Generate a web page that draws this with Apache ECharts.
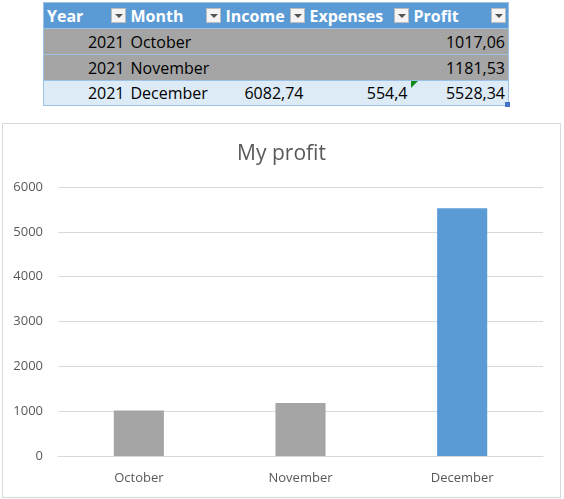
<!DOCTYPE html>
<html>
<head>
<meta charset="utf-8">
<script src="https://cdn.jsdelivr.net/npm/echarts@6/dist/echarts.min.js"></script>
<style>
  body { margin: 0; background: #fff; font-family: "Open Sans", sans-serif; }
  #sheet { position: absolute; left: 43px; top: 2px; border-collapse: collapse; table-layout: fixed; }
  #sheet td, #sheet th { padding: 0 3px; font-size: 16px; white-space: nowrap; position: relative; border-top: 1px solid #9bc2e6; border-bottom: 1px solid #9bc2e6; }
  #sheet th { background: #5b9bd5; color: #fff; font-weight: bold; text-align: left; height: 25px; }
  #sheet tr.grey td { background: #a5a5a5; color: #000; height: 25px; }
  #sheet tr.last td { background: #ddebf7; color: #000; height: 24px; }
  #sheet tr td:first-child, #sheet tr th:first-child { border-left: 1px solid #9bc2e6; }
  #sheet tr td:last-child, #sheet tr th:last-child { border-right: 1px solid #9bc2e6; }
  .num { text-align: right; }
  .flt { position: absolute; right: 2px; top: 5px; width: 15px; height: 15px; background: #f4f4f4; border: 1px solid #bdbdbd; box-sizing: border-box; }
  .flt:after { content: ""; position: absolute; left: 3px; top: 5px; border-left: 4px solid transparent; border-right: 4px solid transparent; border-top: 4px solid #555; }
  .err { position: absolute; left: 0; top: 0; width: 0; height: 0; border-top: 7px solid #168a16; border-right: 7px solid transparent; }
  .hnd { position: absolute; right: -2px; bottom: -2px; width: 5px; height: 5px; background: #4472c4; }
  #chart { position: absolute; left: 2px; top: 123px; width: 557px; height: 373px; border: 1px solid #d9d9d9; }
</style>
</head>
<body>
<table id="sheet">
  <colgroup><col style="width:84px"><col style="width:95px"><col style="width:84px"><col style="width:104px"><col style="width:98px"></colgroup>
  <thead><tr id="head"></tr></thead>
  <tbody id="rows"></tbody>
</table>
<div id="chart"></div>
<script>
// table data
const headers = ['Year', 'Month', 'Income', 'Expenses', 'Profit'];
const years = [2021, 2021, 2021];
const months = ['October', 'November', 'December'];
const incomeText = ['', '', '6082,74'];
const expensesText = ['', '', '554,4'];
const profitText = ['1017,06', '1181,53', '5528,34'];

// chart data
const profit = [1017.06, 1181.53, 5528.34];
const barColors = ['#a5a5a5', '#a5a5a5', '#5b9bd5'];
const yTicks = [0, 1000, 2000, 3000, 4000, 5000, 6000];

// build the sheet
const head = document.getElementById('head');
headers.forEach(h => {
    const th = document.createElement('th');
    th.innerHTML = h + '<span class="flt"></span>';
    head.appendChild(th);
});
const rows = document.getElementById('rows');
months.forEach((m, i) => {
    const tr = document.createElement('tr');
    tr.className = i < 2 ? 'grey' : 'last';
    const cells = [years[i], m, incomeText[i], expensesText[i], profitText[i]];
    cells.forEach((c, j) => {
        const td = document.createElement('td');
        td.textContent = c;
        if (j !== 1) td.className = 'num';
        if (i === 2 && j === 4) {
            td.innerHTML += '<span class="err"></span><span class="hnd"></span>';
        }
        tr.appendChild(td);
    });
    rows.appendChild(tr);
});

const option = {
    animation: false,
    title: {
        text: 'My profit',
        left: 'center',
        top: 15,
        textStyle: {
            color: '#595959',
            fontSize: 21,
            fontWeight: 'normal',
            fontFamily: 'Open Sans'
        }
    },
    grid: {
        left: 55,
        right: 17,
        top: 63,
        bottom: 41
    },
    xAxis: {
        type: 'category',
        data: months,
        axisLine: { lineStyle: { color: '#d9d9d9' } },
        axisTick: { show: false },
        axisLabel: { color: '#595959', fontSize: 13, margin: 16, fontFamily: 'Open Sans' }
    },
    yAxis: {
        type: 'value',
        min: yTicks[0],
        max: yTicks[yTicks.length - 1],
        interval: 1000,
        axisLine: { show: false },
        axisTick: { show: false },
        axisLabel: {
            color: '#595959',
            fontSize: 13,
            margin: 15,
            fontFamily: 'Open Sans',
            formatter: v => String(v)
        },
        splitLine: { lineStyle: { color: '#d9d9d9' } }
    },
    series: [
        {
            name: 'Profit',
            type: 'bar',
            barWidth: '31%',
            data: profit.map((v, i) => ({ value: v, itemStyle: { color: barColors[i] } }))
        }
    ]
};
const chart = echarts.init(document.getElementById('chart'));
chart.setOption(option);
</script>
</body>
</html>
